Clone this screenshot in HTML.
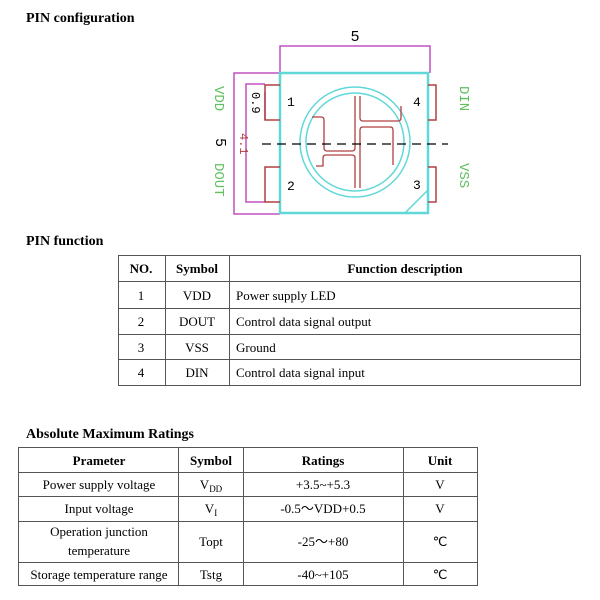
<!DOCTYPE html>
<html><head><style>body{margin:0;background:#fff}svg{display:block}</style></head><body>
<svg width="600" height="600" xmlns="http://www.w3.org/2000/svg" font-family="Liberation Serif, serif">
<text x="26" y="22" font-size="14" font-weight="bold">PIN  configuration</text>
<g fill="none" stroke-width="1.5">
<polyline points="280,73 280,46 430,46 430,73" stroke="#c050c0"/>
<polyline points="280,73 234,73 234,214 280,214" stroke="#c050c0"/>
<polyline points="265,84 246,84 246,202 265,202" stroke="#c050c0"/>
<line x1="265" y1="92" x2="265" y2="120" stroke="#c050c0"/>
<rect x="280" y="73" width="148" height="140" stroke="#60d8d8" stroke-width="2.5"/>
<line x1="405" y1="213" x2="428" y2="190" stroke="#60d8d8"/>
<circle cx="355" cy="142" r="55" stroke="#60d8d8"/>
<circle cx="355" cy="142" r="49" stroke="#60d8d8"/>
<polyline points="280,85 265,85 265,120 280,120" stroke="#b04040"/>
<polyline points="280,167 265,167 265,202 280,202" stroke="#b04040"/>
<polyline points="428,85 436,85 436,120 428,120" stroke="#b04040"/>
<polyline points="428,167 436,167 436,202 428,202" stroke="#b04040"/>
<g stroke="#b04040" stroke-width="1.3">
<path d="M355,96 V148 Q355,151 352,151 H327 Q324,151 324,148 V120 Q324,117 321,117 H312"/>
<path d="M360,96 V118 Q360,121 363,121 H398 Q401,121 401,118 V106"/>
<path d="M360,188 V130 Q360,127 363,127 H390 Q393,127 393,130 V165"/>
<path d="M355,188 V158 Q355,155 352,155 H326 Q323,155 323,158 V166 H316"/>
</g>
<line x1="262" y1="144" x2="448" y2="144" stroke="#000" stroke-width="1.2" stroke-dasharray="9,6"/>
</g>
<text x="355" y="41" font-family="Liberation Sans,sans-serif" font-size="15" text-anchor="middle">5</text>
<g font-family="Liberation Mono,monospace" font-size="13">
<text x="287" y="106">1</text><text x="413" y="106">4</text>
<text x="287" y="190">2</text><text x="413" y="189">3</text>
<text transform="translate(252,92) rotate(90)" font-size="12">0.9</text>
<text transform="translate(240,133) rotate(90)" font-size="12" fill="#b04040">4.1</text>
<text transform="translate(216,138) rotate(90)" font-size="15">5</text>
<g fill="#60c060" font-size="14">
<text transform="translate(215,86) rotate(90)">VDD</text>
<text transform="translate(215,163) rotate(90)">DOUT</text>
<text transform="translate(460,86) rotate(90)">DIN</text>
<text transform="translate(460,163) rotate(90)">VSS</text>
</g></g>
<text x="26" y="245" font-size="14" font-weight="bold">PIN function</text>
<g stroke="#555" stroke-width="1" fill="none">
<rect x="118.5" y="255.5" width="462" height="130"/>
<line x1="165.5" y1="255" x2="165.5" y2="385"/><line x1="229.5" y1="255" x2="229.5" y2="385"/>
<line x1="118" y1="281.5" x2="580" y2="281.5"/><line x1="118" y1="308.5" x2="580" y2="308.5"/>
<line x1="118" y1="334.5" x2="580" y2="334.5"/><line x1="118" y1="359.5" x2="580" y2="359.5"/>
</g>
<g font-size="13" text-anchor="middle">
<text x="141" y="273" font-weight="bold">NO.</text><text x="197" y="273" font-weight="bold">Symbol</text><text x="405" y="273" font-weight="bold">Function description</text>
<text x="141" y="300">1</text><text x="197" y="300">VDD</text>
<text x="141" y="326">2</text><text x="197" y="326">DOUT</text>
<text x="141" y="352">3</text><text x="197" y="352">VSS</text>
<text x="141" y="377">4</text><text x="197" y="377">DIN</text>
</g>
<g font-size="13">
<text x="236" y="300">Power supply LED</text><text x="236" y="326">Control data signal output</text>
<text x="236" y="352">Ground</text><text x="236" y="377">Control data signal input</text>
</g>
<text x="26" y="438" font-size="14" font-weight="bold">Absolute Maximum Ratings</text>
<g stroke="#555" stroke-width="1" fill="none">
<rect x="18.5" y="447.5" width="459" height="138"/>
<line x1="178.5" y1="447" x2="178.5" y2="586"/><line x1="243.5" y1="447" x2="243.5" y2="586"/><line x1="403.5" y1="447" x2="403.5" y2="586"/>
<line x1="18" y1="472.5" x2="477" y2="472.5"/><line x1="18" y1="496.5" x2="477" y2="496.5"/>
<line x1="18" y1="521.5" x2="477" y2="521.5"/><line x1="18" y1="562.5" x2="477" y2="562.5"/>
</g>
<g font-size="13" text-anchor="middle">
<text x="99" y="465" font-weight="bold">Prameter</text><text x="211" y="465" font-weight="bold">Symbol</text><text x="323" y="465" font-weight="bold">Ratings</text><text x="440" y="465" font-weight="bold">Unit</text>
<text x="99" y="489">Power supply voltage</text><text x="211" y="489">V<tspan font-size="9" dy="3">DD</tspan></text><text x="323" y="489">+3.5~+5.3</text><text x="440" y="489">V</text>
<text x="99" y="513">Input voltage</text><text x="211" y="513">V<tspan font-size="9" dy="3">I</tspan></text><text x="323" y="513">-0.5～VDD+0.5</text><text x="440" y="513">V</text>
<text x="99" y="536">Operation junction</text><text x="99" y="555">temperature</text><text x="211" y="546">Topt</text><text x="323" y="546">-25～+80</text><text x="440" y="546">℃</text>
<text x="99" y="579">Storage temperature range</text><text x="211" y="579">Tstg</text><text x="323" y="579">-40~+105</text><text x="440" y="579">℃</text>
</g>
</svg>
</body></html>
